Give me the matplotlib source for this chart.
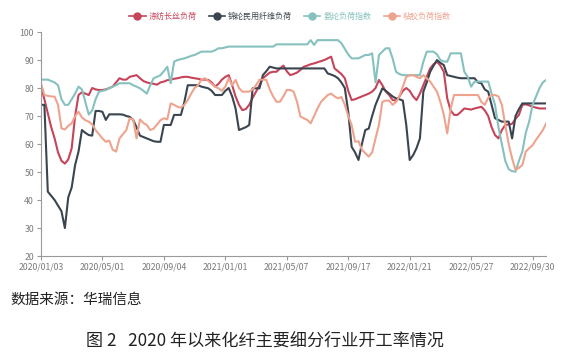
import matplotlib
matplotlib.use("Agg")
import matplotlib.pyplot as plt
from matplotlib.lines import Line2D
import numpy as np

plt.rcParams['font.family'] = ['Noto Sans CJK SC', 'DejaVu Sans']

# weekly load rates
polyester = [
    80.5, 76, 71, 66, 62, 57, 54, 53, 54.5, 58.5, 70, 77.5, 78.5, 78, 77.5, 80, 79.5, 79.3, 79.3, 79.5,
    80, 80.5, 82, 83.5, 83, 83, 84, 84.3, 84.6, 83.5, 82.5, 82, 81.7, 81.5, 81.2, 82, 82.3, 82.8, 83, 83.3,
    83.5, 83.8, 84, 84, 83.7, 83.5, 83.3, 83, 83, 82.9, 82, 80.5, 81.5, 83, 84, 84.6, 81, 77, 74, 72.1,
    72.5, 74, 76.5, 78.7, 81, 83.5, 84.5, 85.5, 85.8, 85.8, 87, 88, 86, 84.6, 85, 85.5, 86.5, 87.6, 88, 88.5,
    88.8, 89.2, 89.6, 90, 90.6, 91.2, 87, 86, 85, 83.5, 79, 75.7, 76, 76.5, 77, 77.5, 78, 78.7, 80, 82.9,
    81, 78.7, 77.5, 75.7, 75.5, 77, 79, 80, 79, 77, 75.7, 78, 81, 84, 87, 88.5, 89.4, 88, 85.8, 76.3,
    72, 70.4, 70.4, 71.5, 72.7, 72.5, 72.3, 72.7, 73, 73.3, 72, 70, 66, 63.2, 62, 65, 66.8, 67, 67.2, 69,
    70.4, 74, 74.2, 73.8, 73.3, 73, 72.7, 72.7, 72.7,
]
nylon = [
    74, 74, 43, 41.5, 40, 38, 36, 30, 41, 44.5, 52.5, 57.3, 65, 64, 63.2, 63, 71.8, 71.8, 71.5, 68.6,
    70.6, 70.6, 70.6, 70.6, 70.5, 70, 69.7, 68.6, 66, 63, 62.5, 62, 61.5, 61, 60.8, 60.8, 66.8, 66.8, 66.8, 70.4,
    70.4, 70.4, 75, 81, 81, 81, 81, 80.5, 80.2, 79.9, 79, 77.5, 77.5, 77.5, 79, 80, 77, 72.7, 65, 65.5,
    66, 66.8, 79.9, 79.9, 79.9, 84.6, 86, 87.6, 87.3, 87, 87, 87, 87, 87, 87, 87, 87, 87, 87, 87,
    87, 87, 87, 87, 85.2, 84.8, 84.3, 83.5, 82, 80, 71.5, 59, 57, 54.3, 60, 65, 65.5, 70, 74, 77,
    79.9, 79, 78, 77, 76.3, 76, 75.5, 66.8, 54.3, 56, 58.5, 62, 78.7, 82, 85.8, 88, 90, 89, 88.2, 84.6,
    84.3, 84, 83.7, 83.5, 83.5, 83.5, 83.5, 83.5, 82, 81.7, 79.5, 78.7, 74, 69.2, 68.6, 68, 68, 68, 62, 70,
    72.5, 74.5, 74.5, 74.5, 74.5, 74.5, 74.5, 74.5, 74.5,
]
spandex = [
    83, 83, 83, 82.5, 82, 81, 76, 74, 74, 76, 78, 80.5, 79.5, 75, 70.5, 72, 76, 78.7, 79, 79.3,
    79.9, 80.5, 81, 81.7, 81.7, 81.7, 81.7, 81, 80.5, 79.9, 79, 78, 81, 83.5, 84, 84.6, 86, 87.6, 81.7, 89.4,
    90, 90.3, 90.6, 91, 91.5, 91.8, 92.4, 93, 93, 93, 93, 93.5, 94.2, 94.2, 94.5, 94.8, 94.8, 94.8, 94.8, 94.8,
    94.8, 94.8, 94.8, 94.8, 94.8, 94.8, 94.8, 94.8, 94.8, 95.6, 95.6, 95.6, 95.6, 95.6, 95.6, 95.6, 95.6, 95.6, 95.6, 97.1,
    95.4, 97.1, 97.1, 97.1, 97.1, 97.1, 97.1, 97.1, 96, 94, 92, 90.6, 90.6, 90.6, 91.2, 91.8, 91.8, 92.4, 82, 91.8,
    93, 94.2, 94.2, 90.6, 85.8, 85, 84.6, 84.6, 84.6, 84.6, 84.6, 84.6, 89.4, 93, 93, 93, 92, 90, 89.5, 89.4,
    92.4, 92.4, 92.4, 92.4, 85.8, 84, 80.5, 82.3, 82.3, 82.3, 82.3, 82.3, 78, 74, 66, 60, 54, 51, 50.3, 50.1,
    54, 57.3, 64, 68, 74, 77, 79.9, 82, 82.9,
]
viscose = [
    81.7, 77.5, 77.2, 77, 76.9, 74, 65.6, 65.2, 66.5, 67.4, 70, 71.5, 69.5, 68.5, 68, 67, 65, 63.5, 62, 60.8,
    61.2, 58, 57.3, 62, 63.5, 65, 69.2, 68.8, 62, 68.8, 67.5, 66.8, 65, 65.5, 67, 68.5, 69.2, 68.8, 74.5, 74,
    73.3, 73, 74, 75.7, 78, 80, 81, 83, 83.5, 82.5, 81.5, 80.5, 79.9, 79, 80.5, 83.5, 81, 82.9, 80, 78.7,
    78.7, 78.7, 79.5, 81, 83, 83, 82.9, 79.5, 77, 75.1, 75.1, 77, 79.3, 79.3, 78.7, 75.1, 69.8, 69.2, 68.6, 67.4,
    70, 72.7, 75, 76.3, 77.5, 78, 77, 76.3, 76.8, 74, 70, 66.8, 60.8, 61, 58, 56.7, 55.5, 57, 62, 66.8,
    75.1, 75.5, 75.5, 74, 75, 77, 80.5, 84, 84.5, 84.6, 84, 83.5, 84.6, 83.5, 82.3, 80.5, 78.7, 75, 70.4, 63.8,
    72.7, 77.5, 77.5, 77.5, 77.5, 77.5, 77.5, 77.5, 77.5, 75, 74, 76.5, 77.5, 77.5, 77, 74, 66.8, 60, 54.9, 50.7,
    51.5, 52.5, 57.3, 58.5, 59.6, 61.5, 63.2, 65, 67.4,
]

labels = ["涤纺长丝负荷", "锦纶民用纤维负荷", "氨纶负荷指数", "粘胶负荷指数"]
colors = ["#c6445a", "#3a4550", "#86c1bf", "#eea38f"]
tick_labels = ["2020/01/03", "2020/05/01", "2020/09/04", "2021/01/01", "2021/05/07",
               "2021/09/17", "2022/01/21", "2022/05/27", "2022/09/30"]
tick_step = 18

fig = plt.figure(figsize=(5.69, 3.64), dpi=100)
ax = fig.add_axes([0.072, 0.2967, 0.888, 0.6153])

for data, label, color in zip([polyester, nylon, spandex, viscose], labels, colors):
    x = np.arange(len(data))
    ax.plot(x, data, color=color, lw=1.5, label=label)

n = len(polyester)
ax.set_xlim(0, n - 1)
ax.set_ylim(20, 100)
ax.set_yticks(range(20, 101, 10))
ax.set_xticks([i * tick_step for i in range(len(tick_labels))])
ax.set_xticklabels(tick_labels)

for side in ["top", "right"]:
    ax.spines[side].set_visible(False)
for side in ["left", "bottom"]:
    ax.spines[side].set_color("#9a9a9a")
    ax.spines[side].set_linewidth(0.8)
ax.tick_params(axis="both", colors="#9a9a9a", labelcolor="#7a7a7a", labelsize=6.3,
               length=3, width=0.8, pad=2)

# legend with line + dot handles
handles = [Line2D([0], [0], color=c, lw=1.2, marker='o', markersize=5) for c in colors]
fig.legend(handles, labels, loc="center", bbox_to_anchor=(0.51, 0.955), ncol=4,
           frameon=False, fontsize=5.8, handlelength=2.0, handletextpad=0.4,
           columnspacing=1.5, labelcolor=colors)

fig.text(0.018, 0.175, "数据来源：华瑞信息", fontsize=10.5, color="#222222", va="center")
fig.text(0.466, 0.065, "图 2   2020 年以来化纤主要细分行业开工率情况", fontsize=12.3,
         color="#222222", ha="center", va="center")

fig.savefig("out.png", dpi=100)
